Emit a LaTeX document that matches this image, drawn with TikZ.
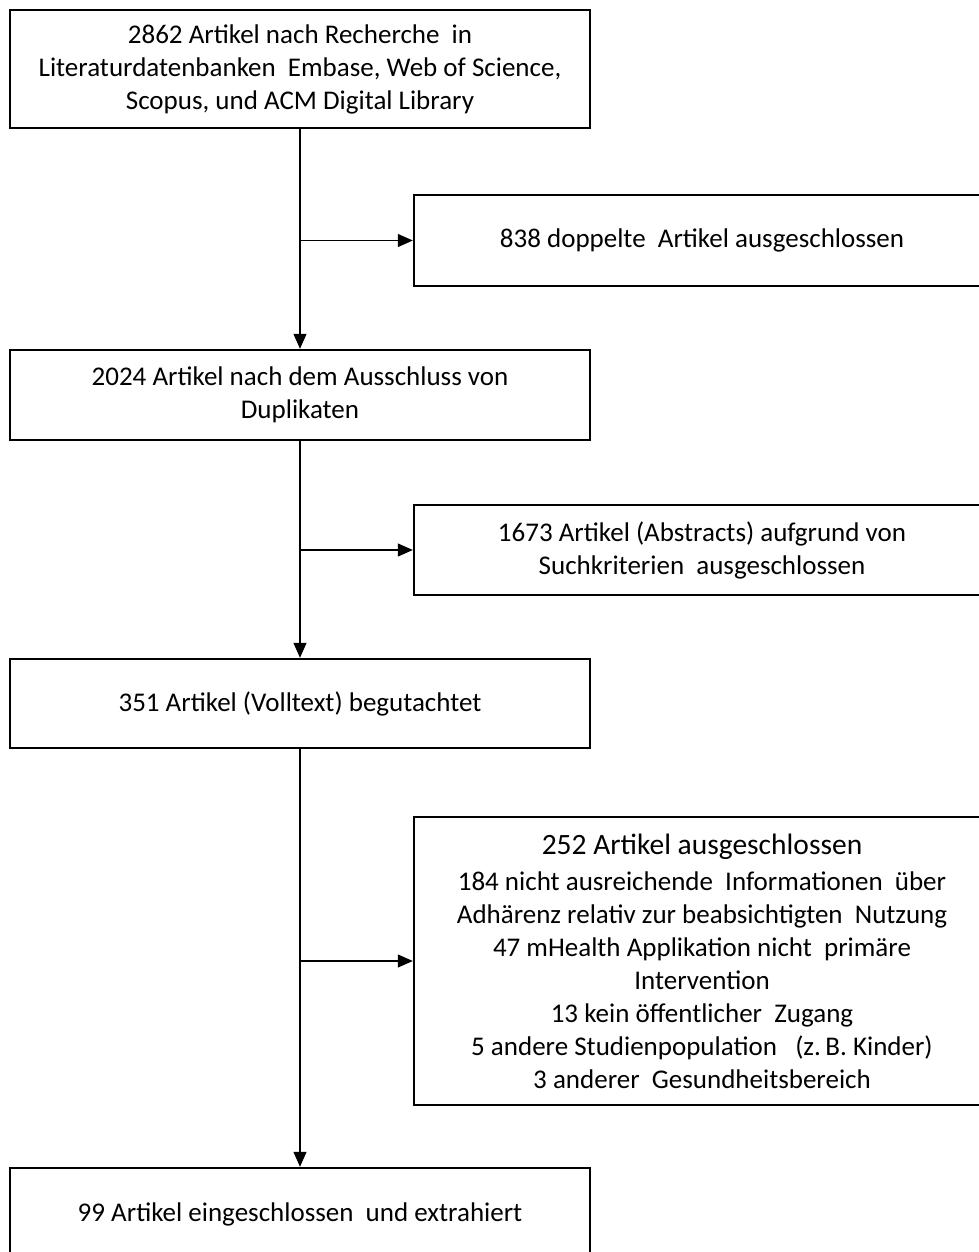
\documentclass[tikz,border=0pt]{standalone}
\usepackage{fontspec}
\setmainfont{Carlito}
\usetikzlibrary{arrows.meta}
\begin{document}
\begin{tikzpicture}[x=1pt,y=-1pt,
  box/.style={draw=black, line width=2.4pt, fill=white, align=center, inner sep=0pt,
    font=\fontsize{27}{33}\selectfont},
  arr/.style={line width=1.2pt, -{Triangle[length=15pt,width=13pt]}}]
\useasboundingbox (0,0) rectangle (979,1252);
\node[box, minimum width=580pt, minimum height=118pt] (b1) at (300,69)
  {2862 Artikel nach Recherche\ \ in\\Literaturdatenbanken\ \ Embase, Web of Science,\\Scopus, und ACM Digital Library};
\node[box, minimum width=576pt, minimum height=91pt] (b2) at (702,240.5)
  {838 doppelte\ \ Artikel ausgeschlossen};
\node[box, minimum width=580pt, minimum height=90pt] (b3) at (300,395)
  {2024 Artikel nach dem Ausschluss von\\Duplikaten};
\node[box, minimum width=576pt, minimum height=90pt] (b4) at (702,550)
  {1673 Artikel (Abstracts) aufgrund von\\Suchkriterien\ \ ausgeschlossen};
\node[box, minimum width=580pt, minimum height=89pt] (b5) at (300,703.5)
  {351 Artikel (Volltext) begutachtet};
\node[box, minimum width=576pt, minimum height=288pt] (b6) at (702,961)
  {{\fontsize{29.5}{36}\selectfont 252 Artikel ausgeschlossen}\\[3pt]
   184 nicht ausreichende\ \ Informationen\ \ über\\
   Adhärenz relativ zur beabsichtigten\ \ Nutzung\\
   47 mHealth Applikation nicht\ \ primäre\\
   Intervention\\
   13 kein öffentlicher\ \ Zugang\\
   5 andere Studienpopulation\ \ \ (z.\,B. Kinder)\\
   3 anderer\ \ Gesundheitsbereich};
\node[box, minimum width=580pt, minimum height=92pt] (b7) at (300,1214)
  {99 Artikel eingeschlossen\ \ und extrahiert};
\draw[arr] (b1.south) -- (b3.north);
\draw[arr] (b3.south) -- (b5.north);
\draw[arr] (b5.south) -- (b7.north);
\draw[arr] (b1.south |- b2.west) -- (b2.west);
\draw[arr] (b3.south |- b4.west) -- (b4.west);
\draw[arr] (b5.south |- b6.west) -- (b6.west);
\end{tikzpicture}
\end{document}
